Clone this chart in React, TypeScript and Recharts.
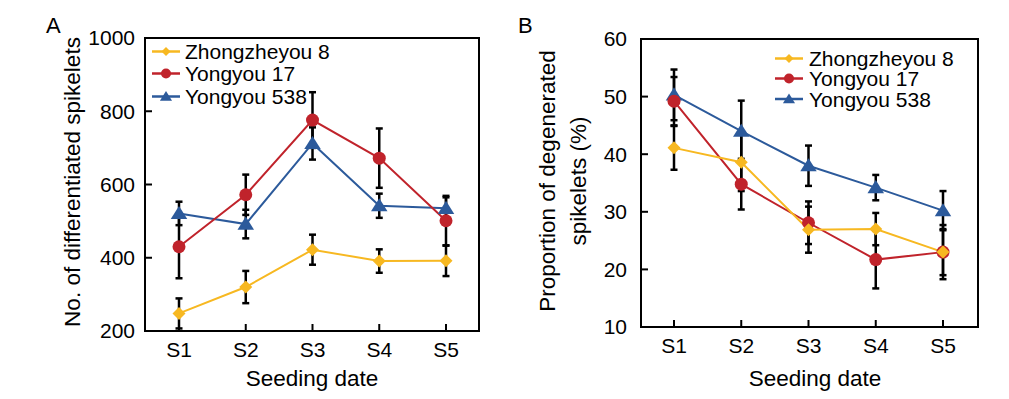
import React from 'react'
import { LineChart, Line, XAxis, YAxis, ErrorBar } from 'recharts'

const dates = ['S1', 'S2', 'S3', 'S4', 'S5']

// panel A: no. of differentiated spikelets
const zhongA = [248, 320, 422, 391, 392]
const zhongAErr = [41, 44, 41, 32, 42]
const y17A = [430, 572, 776, 672, 501]
const y17AErr = [86, 55, 76, 81, 68]
const y538A = [521, 492, 712, 542, 535]
const y538AErr = [32, 39, 44, 33, 30]
const ticksA = [200, 400, 600, 800, 1000]

// panel B: proportion of degenerated spikelets (%)
const zhongB = [41.1, 38.6, 26.9, 27.0, 23.0]
const zhongBErr = [3.8, 5.0, 4.0, 2.8, 4.0]
const y17B = [49.2, 34.8, 28.1, 21.7, 23.0]
const y17BErr = [4.2, 4.4, 3.7, 5.0, 4.7]
const y538B = [50.3, 44.0, 38.0, 34.2, 30.2]
const y538BErr = [4.4, 5.3, 3.5, 2.2, 3.4]
const ticksB = [10, 20, 30, 40, 50, 60]

const seriesNames = ['Zhongzheyou 8', 'Yongyou 17', 'Yongyou 538']

const FONT = '"Liberation Sans", Arial, sans-serif'
const YELLOW = '#F7B821'
const RED = '#C0232B'
const BLUE = '#2C5A9B'

const CHART_W = 500
const CHART_H = 399
const Y_AXIS_W = 60
const X_AXIS_H = 30

const dataA = dates.map((d, i) => ({
  date: d,
  zhong: zhongA[i], zhongErr: zhongAErr[i],
  y17: y17A[i], y17Err: y17AErr[i],
  y538: y538A[i], y538Err: y538AErr[i],
}))

const dataB = dates.map((d, i) => ({
  date: d,
  zhong: zhongB[i], zhongErr: zhongBErr[i],
  y17: y17B[i], y17Err: y17BErr[i],
  y538: y538B[i], y538Err: y538BErr[i],
}))

const Diamond = ({ cx, cy, r, color }: any) => (
  <path d={`M${cx},${cy - r} L${cx + r},${cy} L${cx},${cy + r} L${cx - r},${cy} Z`} fill={color} />
)
const Triangle = ({ cx, cy, r, color }: any) => (
  <path d={`M${cx},${cy - r} L${cx + r * 1.1},${cy + r * 0.75} L${cx - r * 1.1},${cy + r * 0.75} Z`} fill={color} />
)

const diamondDot = (props: any) => {
  const { cx, cy, index } = props
  if (cx == null || cy == null) return <g key={`dd-${index}`} />
  return <Diamond key={`dd-${index}`} cx={cx} cy={cy} r={6.5} color={YELLOW} />
}
const circleDot = (props: any) => {
  const { cx, cy, index } = props
  if (cx == null || cy == null) return <g key={`cd-${index}`} />
  return <circle key={`cd-${index}`} cx={cx} cy={cy} r={6.5} fill={RED} />
}
const triangleDot = (props: any) => {
  const { cx, cy, index } = props
  if (cx == null || cy == null) return <g key={`td-${index}`} />
  return <Triangle key={`td-${index}`} cx={cx} cy={cy} r={7.5} color={BLUE} />
}

const tickStyle = { fill: '#000', fontSize: 21, fontFamily: FONT }
const axisStroke = { stroke: '#000', strokeWidth: 2 }

const marginA = { top: 38, right: 21, bottom: 38, left: 85 }
const marginB = { top: 39, right: 22, bottom: 42, left: 81 }

function Panel({ data, domain, ticks, margin, padding, yTickMargin }: any) {
  return (
    <LineChart width={CHART_W} height={CHART_H} data={data} margin={margin}>
      <XAxis
        dataKey="date"
        padding={padding}
        interval={0}
        height={X_AXIS_H}
        tickSize={-7}
        tickMargin={18}
        tick={tickStyle}
        axisLine={axisStroke}
        tickLine={axisStroke}
      />
      <YAxis
        type="number"
        domain={domain}
        ticks={ticks}
        width={Y_AXIS_W}
        tickSize={-7}
        tickMargin={yTickMargin}
        tick={tickStyle}
        axisLine={axisStroke}
        tickLine={axisStroke}
        allowDataOverflow
      />
      <Line dataKey="y538" stroke={BLUE} strokeWidth={2} dot={triangleDot} isAnimationActive={false}>
        <ErrorBar dataKey="y538Err" direction="y" width={3.5} stroke="#000" strokeWidth={2.5} />
      </Line>
      <Line dataKey="y17" stroke={RED} strokeWidth={2} dot={circleDot} isAnimationActive={false}>
        <ErrorBar dataKey="y17Err" direction="y" width={3.5} stroke="#000" strokeWidth={2.5} />
      </Line>
      <Line dataKey="zhong" stroke={YELLOW} strokeWidth={2} dot={diamondDot} isAnimationActive={false}>
        <ErrorBar dataKey="zhongErr" direction="y" width={3.5} stroke="#000" strokeWidth={2.5} />
      </Line>
    </LineChart>
  )
}

// box around a panel's plot area (html border), derived from its margins
function FrameBox({ left, margin }: any) {
  const x0 = left + margin.left + Y_AXIS_W
  const x1 = left + CHART_W - margin.right
  const y0 = margin.top
  const y1 = CHART_H - margin.bottom - X_AXIS_H
  return (
    <div
      style={{
        position: 'absolute',
        left: x0 - 1,
        top: y0 - 1,
        width: x1 - x0 - 2,
        height: y1 - y0 - 2,
        border: '2px solid #000',
        pointerEvents: 'none',
      }}
    />
  )
}

function LegendBlock({ x, ys, textX }: any) {
  const markers = [
    (cx: number, cy: number) => <Diamond cx={cx} cy={cy} r={4.5} color={YELLOW} />,
    (cx: number, cy: number) => <circle cx={cx} cy={cy} r={5} fill={RED} />,
    (cx: number, cy: number) => <Triangle cx={cx} cy={cy} r={5.5} color={BLUE} />,
  ]
  const colors = [YELLOW, RED, BLUE]
  return (
    <g>
      {seriesNames.map((name, i) => (
        <g key={name}>
          <line x1={x} x2={x + 28} y1={ys[i]} y2={ys[i]} stroke={colors[i]} strokeWidth={2.5} />
          {markers[i](x + 14, ys[i])}
          <text x={textX} y={ys[i] + 7.5} fontSize={21} fontFamily={FONT} fill="#000">{name}</text>
        </g>
      ))}
    </g>
  )
}

export default function App() {
  return (
    <div style={{ position: 'absolute', left: 0, top: 0, width: 1009, height: 399, background: '#fff', fontFamily: FONT }}>
      <div style={{ position: 'absolute', left: 0, top: 0 }}>
        <Panel
          data={dataA}
          domain={[200, 1000]}
          ticks={ticksA}
          margin={marginA}
          padding={{ left: 34, right: 33 }}
          yTickMargin={17}
        />
      </div>
      <div style={{ position: 'absolute', left: 500, top: 0 }}>
        <Panel
          data={dataB}
          domain={[10, 60]}
          ticks={ticksB}
          margin={marginB}
          padding={{ left: 33, right: 35 }}
          yTickMargin={21}
        />
      </div>
      <FrameBox left={0} margin={marginA} />
      <FrameBox left={500} margin={marginB} />
      <svg width={1009} height={399} style={{ position: 'absolute', left: 0, top: 0, pointerEvents: 'none' }}>
        <text x={46} y={33} fontSize={22} fontFamily={FONT}>A</text>
        <text x={518} y={33} fontSize={22} fontFamily={FONT}>B</text>
        <text
          x={72} y={182} fontSize={22.5} fontFamily={FONT} textAnchor="middle" dominantBaseline="central"
          transform="rotate(-90 72 182)"
        >No. of differentiated spikelets</text>
        <text
          x={547} y={181} fontSize={22.5} fontFamily={FONT} textAnchor="middle" dominantBaseline="central"
          transform="rotate(-90 547 181)"
        >Proportion of degenerated</text>
        <text
          x={578} y={181} fontSize={22.5} fontFamily={FONT} textAnchor="middle" dominantBaseline="central"
          transform="rotate(-90 578 181)"
        >spikelets (%)</text>
        <text x={312} y={386} fontSize={22.5} fontFamily={FONT} textAnchor="middle">Seeding date</text>
        <text x={815} y={386} fontSize={22.5} fontFamily={FONT} textAnchor="middle">Seeding date</text>
        <LegendBlock x={152} ys={[51.5, 73.5, 96.5]} textX={185} />
        <LegendBlock x={775} ys={[58.5, 78.5, 99]} textX={809} />
      </svg>
    </div>
  )
}
